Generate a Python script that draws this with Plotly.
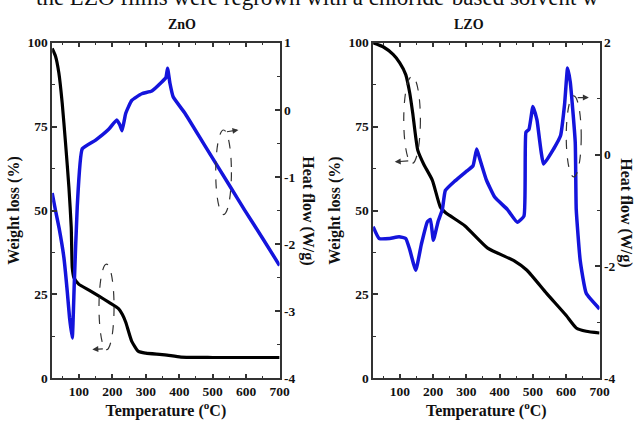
import plotly.graph_objects as go

# ---------------- data ----------------
zno_w_T = [20, 30, 40, 50, 60, 70, 77, 80, 85, 100, 130, 160, 190, 219, 230, 240, 258, 278, 300, 357, 405, 500, 600, 700]
zno_w = [98.3, 96, 91, 82, 70, 57, 45, 33, 30, 28, 26.3, 24.5, 22.6, 20.7, 19, 16.7, 11, 8, 7.5, 7, 6.3, 6.2, 6.2, 6.2]

zno_h_T = [20, 30, 41, 55, 65, 72, 80, 86, 95, 110, 150, 189, 213, 222, 229, 240, 258, 288, 318, 347, 360, 365, 372, 382, 417, 476, 553, 595, 650, 700]
zno_h = [-1.24, -1.5, -1.77, -2.2, -2.7, -3.1, -3.40, -2.6, -1.44, -0.58, -0.45, -0.29, -0.15, -0.22, -0.31, -0.05, 0.14, 0.24, 0.28, 0.41, 0.48, 0.62, 0.4, 0.19, -0.05, -0.53, -1.15, -1.49, -1.92, -2.32]

lzo_w_T = [20, 50, 80, 100, 118, 130, 139, 154, 172, 198, 222, 237, 296, 364, 444, 482, 541, 600, 630, 660, 700]
lzo_w = [100, 98.8, 96.5, 94, 90.5, 85, 79, 68, 63.8, 59, 51, 49.4, 45.4, 38.8, 35, 32.2, 25.3, 18.7, 15, 14, 13.5]

lzo_h_T = [20, 38, 70, 98, 118, 130, 148, 165, 183, 192, 201, 215, 228, 237, 266, 302, 320, 331, 340, 360, 385, 423, 453, 473, 479, 488, 500, 512, 532, 562, 583, 595, 604, 612, 627, 630, 642, 660, 700]
lzo_h = [-1.29, -1.5, -1.5, -1.47, -1.5, -1.7, -2.07, -1.6, -1.2, -1.16, -1.53, -1.2, -0.98, -0.64, -0.47, -0.29, -0.2, 0.1, -0.07, -0.45, -0.76, -0.98, -1.21, -1.10, 0.40, 0.45, 0.86, 0.62, -0.17, 0.10, 0.34, 0.9, 1.55, 1.3, 0.22, -0.98, -1.9, -2.48, -2.76]

x_ticks = [100, 200, 300, 400, 500, 600, 700]
w_ticks = [0, 25, 50, 75, 100]
zno_h_ticks = [-4, -3, -2, -1, 0, 1]
lzo_h_ticks = [-4, -2, 0, 2]

# ---------------- figure ----------------
FONT = "Liberation Serif"
BLACK = "#000000"
BLUE = "#1414dc"
AX = "#333333"

def b(v):
    return "<b>%s</b>" % v

fig = go.Figure()
fig.add_trace(go.Scatter(x=zno_w_T, y=zno_w, mode="lines", line=dict(color=BLACK, width=3.2, shape="spline", smoothing=0.5), xaxis="x", yaxis="y", showlegend=False))
fig.add_trace(go.Scatter(x=zno_h_T, y=zno_h, mode="lines", line=dict(color=BLUE, width=3.5, shape="spline", smoothing=0.4), xaxis="x", yaxis="y2", showlegend=False))
fig.add_trace(go.Scatter(x=lzo_w_T, y=lzo_w, mode="lines", line=dict(color=BLACK, width=3.2, shape="spline", smoothing=0.5), xaxis="x2", yaxis="y3", showlegend=False))
fig.add_trace(go.Scatter(x=lzo_h_T, y=lzo_h, mode="lines", line=dict(color=BLUE, width=3.5, shape="spline", smoothing=0.4), xaxis="x2", yaxis="y4", showlegend=False))

tickfont = dict(family=FONT, size=13.5, color="#111")
yd = [0.0855, 0.912]

def xax(domain, anchor):
    return dict(domain=domain, anchor=anchor, range=[20, 700], tickvals=x_ticks, ticktext=[b(v) for v in x_ticks],
                ticks="inside", ticklen=5, tickwidth=1.5, tickcolor=AX,
                minor=dict(dtick=50, tick0=0, ticks="inside", ticklen=3, tickwidth=1.2, tickcolor=AX),
                showline=True, linecolor=AX, linewidth=1.5, mirror="ticks",
                showgrid=False, zeroline=False, tickfont=tickfont,
                title=dict(text="<b>Temperature (<sup>o</sup>C)</b>", font=dict(family=FONT, size=16, color="#111"), standoff=0))

def wax(anchor):
    return dict(domain=yd, anchor=anchor, range=[0, 100], tickvals=w_ticks, ticktext=[b(v) for v in w_ticks],
                ticks="inside", ticklen=5, tickwidth=1.5, tickcolor=AX,
                minor=dict(dtick=12.5, tick0=0, ticks="inside", ticklen=3, tickwidth=1.2, tickcolor=AX),
                showline=True, linecolor=AX, linewidth=1.5, showgrid=False, zeroline=False,
                tickfont=tickfont,
                title=dict(text="<b>Weight loss (%)</b>", font=dict(family=FONT, size=16, color="#111"), standoff=4))

def hax(anchor, overlay, rng, ticks, minor_d):
    return dict(overlaying=overlay, anchor=anchor, side="right", range=rng, tickvals=ticks, ticktext=[b(v) for v in ticks],
                ticks="inside", ticklen=5, tickwidth=1.5, tickcolor=AX,
                minor=dict(dtick=minor_d, tick0=0, ticks="inside", ticklen=3, tickwidth=1.2, tickcolor=AX),
                showline=True, linecolor=AX, linewidth=1.5, showgrid=False, zeroline=False,
                tickfont=tickfont)

fig.update_layout(
    width=644, height=421, margin=dict(l=0, r=0, t=0, b=0),
    paper_bgcolor="white", plot_bgcolor="white",
    xaxis=xax([53/644, 284/644], "y"),
    yaxis=wax("x"),
    yaxis2=hax("x", "y", [-4, 1], zno_h_ticks, 0.5),
    xaxis2=xax([379/644, 609/644], "y3"),
    yaxis3=wax("x2"),
    yaxis4=hax("x2", "y3", [-4, 2], lzo_h_ticks, 1),
)

lblfont = dict(family=FONT, size=16, color="#111")
annos = [
    dict(text="<b>ZnO</b>", x=(53 + 284) / 2 / 644, y=1 - 18/421, xref="paper", yref="paper", yanchor="middle", showarrow=False, font=dict(family=FONT, size=14, color="#111")),
    dict(text="<b>LZO</b>", x=(379 + 609) / 2 / 644, y=1 - 18/421, xref="paper", yref="paper", yanchor="middle", showarrow=False, font=dict(family=FONT, size=14, color="#111")),
    dict(text="<b>Heat flow (W/g)</b>", x=312/644, y=1 - 211/421, xref="paper", yref="paper", yanchor="middle", showarrow=False, textangle=90, font=lblfont),
    dict(text="<b>Heat flow (W/g)</b>", x=635/644, y=1 - 213/421, xref="paper", yref="paper", yanchor="middle", showarrow=False, textangle=90, xanchor="center", font=lblfont),
    dict(text="the LZO films were regrown with a chloride-based solvent w", x=0.5, y=1 + 10/421, xref="paper", yref="paper", yanchor="middle", showarrow=False, font=dict(family=FONT, size=23, color="#111")),
]

# dashed ellipse markers with arrows (in data coordinates)
shapes = [
    dict(type="circle", xref="x", yref="y2", x0=509, x1=556, y0=-1.56, y1=-0.3, line=dict(color="#333", width=1.2, dash="dash")),
    dict(type="circle", xref="x", yref="y", x0=160, x1=205, y0=8.5, y1=34, line=dict(color="#333", width=1.2, dash="dash")),
    dict(type="circle", xref="x2", yref="y3", x0=112, x1=162, y0=64, y1=90, line=dict(color="#333", width=1.2, dash="dash")),
    dict(type="circle", xref="x2", yref="y4", x0=600, x1=645, y0=-0.4, y1=1.05, line=dict(color="#333", width=1.2, dash="dash")),
]
arrows = [
    dict(x=577, y=-0.3, ax=538, ay=-0.33, xref="x", yref="y2", axref="x", ayref="y2"),
    dict(x=140, y=8.6, ax=176, ay=8.8, xref="x", yref="y", axref="x", ayref="y"),
    dict(x=85, y=64.5, ax=130, ay=64.8, xref="x2", yref="y3", axref="x2", ayref="y3"),
    dict(x=668, y=1.02, ax=630, ay=1.02, xref="x2", yref="y4", axref="x2", ayref="y4"),
]
for a in arrows:
    a.update(showarrow=True, text="", arrowhead=2, arrowsize=1, arrowwidth=1.2, arrowcolor="#333")
    annos.append(a)

fig.update_layout(annotations=annos, shapes=shapes)
fig.write_html("out.html")
